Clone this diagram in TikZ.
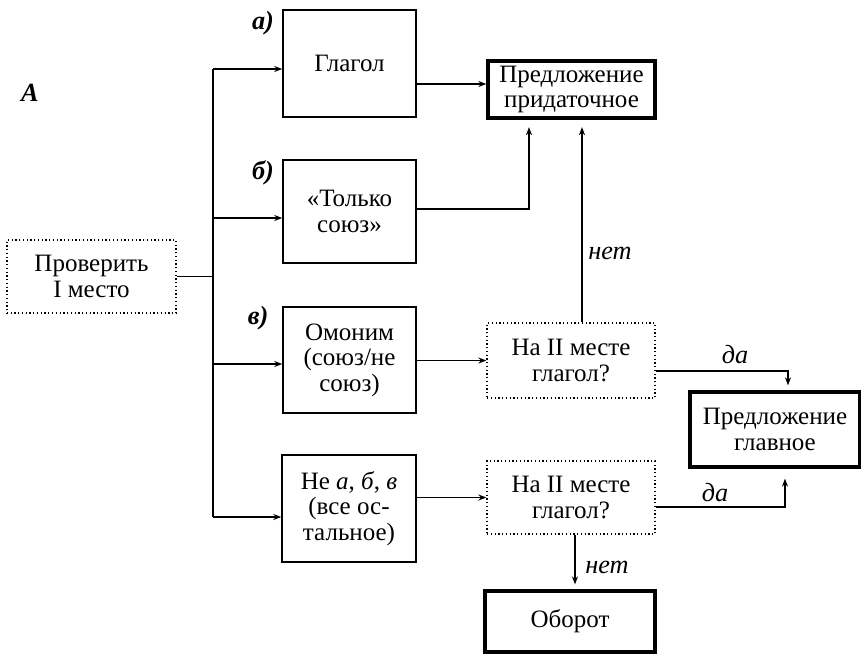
\documentclass[tikz,border=0pt]{standalone}
\usepackage{fontspec}
\setmainfont{Liberation Serif}
\usetikzlibrary{arrows.meta}
\begin{document}
\begin{tikzpicture}[x=0.4pt,y=-0.4pt,
  font=\fontsize{10}{10.2}\selectfont,
  every node/.style={inner sep=0pt,align=center},
  plainbox/.style={draw,line width=0.6pt},
  boldbox/.style={draw,line width=1.3pt},
  askbox/.style={draw,line width=0.5pt,densely dotted},
  link/.style={line width=0.6pt},
  arr/.style={link,-{Stealth[length=3.2pt,width=2.4pt]}},
  lbl/.style={font=\fontsize{10.5}{12}\selectfont\itshape}]
\useasboundingbox (0,0) rectangle (861,655);

% boxes
\node[plainbox,minimum width=53.2pt,minimum height=42.8pt] (glagol) at (349.5,63.5) {Глагол};
\node[plainbox,minimum width=53.2pt,minimum height=41.2pt] (tolko) at (349.5,211.5) {«Только\\союз»};
\node[plainbox,minimum width=53.2pt,minimum height=42.4pt] (omonim) at (349.5,360) {Омоним\\(союз/не\\союз)};
\node[plainbox,minimum width=53.6pt,minimum height=42.8pt] (ne) at (349,508.5) {Не \textit{а}, \textit{б}, \textit{в}\\(все ос-\\тальное)};
\node[askbox,minimum width=67.6pt,minimum height=29.2pt] (prov) at (91.5,276.5) {Проверить\\I место};
\node[boldbox,minimum width=66.8pt,minimum height=22.8pt] (prid) at (571.5,89.5) {Предложение\\придаточное};
\node[askbox,minimum width=67.2pt,minimum height=30pt] (q1) at (571,360.5) {На II месте\\глагол?};
\node[askbox,minimum width=67.2pt,minimum height=29.2pt] (q2) at (571,497.5) {На II месте\\глагол?};
\node[boldbox,minimum width=68pt,minimum height=30pt] (glav) at (775,429.5) {Предложение\\главное};
\node[boldbox,minimum width=68pt,minimum height=24.4pt] (oborot) at (570,621.5) {Оборот};

% labels
\node[lbl] (lA) at (30,93) {\textbf{A}};
\node[lbl] (la) at (263,23) {\textbf{а)}};
\node[lbl] (lb) at (263,173) {\textbf{б)}};
\node[lbl] (lv) at (258,318) {\textbf{в)}};

% bus from the first box
\coordinate (b1) at (213,69);
\coordinate (b2) at (213,218);
\coordinate (b3) at (213,364);
\coordinate (b4) at (213,517);
\draw[link] (b1) -- (b4);
\draw[link] (prov.east) -- (prov.east -| b1);
\draw[arr] (b1) -- (b1 -| glagol.west);
\draw[arr] (b2) -- (b2 -| tolko.west);
\draw[arr] (b3) -- (b3 -| omonim.west);
\draw[arr] (b4) -- (b4 -| ne.west);

% to the subordinate clause
\coordinate (g1) at (450,84);
\draw[arr] (glagol.east |- g1) -- (prid.west |- g1);
\coordinate (t2) at (529,209);
\draw[arr] (tolko.east |- t2) -- (t2) -- ([yshift=-3pt]t2 |- prid.south);
\coordinate (n1) at (582,250);
\draw[arr] (q1.north -| n1) -- ([yshift=-3pt]n1 |- prid.south);
\node[lbl] (net1) at (610,253) {нет};

% middle row
\draw[arr] (omonim.east |- q1.west) -- (q1.west);
\draw[arr] (ne.east |- q2.west) -- (q2.west);

% to the main clause
\coordinate (d1) at (788,371);
\draw[arr] (q1.east |- d1) -- (d1) -- ([yshift=2pt]d1 |- glav.north);
\node[lbl] (da1) at (735,355) {да};
\coordinate (d2) at (785,507);
\draw[arr] (q2.east |- d2) -- (d2) -- ([yshift=-4pt]d2 |- glav.south);
\node[lbl] (da2) at (715,493) {да};

% to the phrase
\coordinate (o1) at (575,560);
\draw[arr] (q2.south -| o1) -- ([yshift=2pt]o1 |- oborot.north);
\node[lbl] (net2) at (607,567) {нет};
\end{tikzpicture}
\end{document}
